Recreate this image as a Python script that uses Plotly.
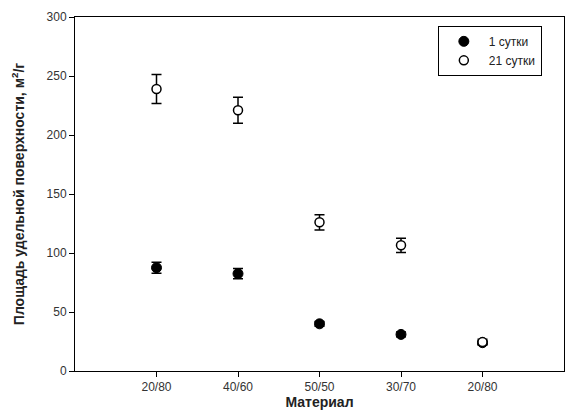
import plotly.graph_objects as go

tick_labels = ["20/80", "40/60", "50/50", "30/70", "20/80"]
x_pos = [1, 2, 3, 4, 5]
day1 = [87.5, 82.5, 40, 31, 24]
day1_err = [4.7, 4.4, 2, 2, 1.5]
day21 = [239, 221, 126, 106.5, 24.5]
day21_err = [12.3, 11, 6.5, 6, 2.5]

fig = go.Figure()
fig.add_trace(go.Scatter(
    x=x_pos, y=day1, mode="markers", name="1 сутки",
    marker=dict(symbol="circle", size=10, color="black", line=dict(color="black", width=1)),
    error_y=dict(type="data", array=day1_err, color="black", thickness=1.5, width=5),
))
fig.add_trace(go.Scatter(
    x=x_pos, y=day21, mode="markers", name="21 сутки",
    marker=dict(symbol="circle", size=9, color="white", line=dict(color="black", width=1.5)),
    error_y=dict(type="data", array=day21_err, color="black", thickness=1.5, width=5),
))

font = "Liberation Sans, Arial, sans-serif"
fig.update_layout(
    width=565, height=412,
    margin=dict(l=75, r=1, t=17, b=41),
    plot_bgcolor="white", paper_bgcolor="white",
    font=dict(family=font, size=12, color="#333"),
    showlegend=True,
    legend=dict(x=0.742, y=0.975, xanchor="left", yanchor="top",
                bordercolor="black", borderwidth=1, bgcolor="white",
                font=dict(size=12, color="#222"), tracegroupgap=0,
                itemwidth=40, yref="paper"),
    xaxis=dict(
        range=[0, 6], tickmode="array", tickvals=x_pos, ticktext=tick_labels,
        showline=True, linecolor="black", linewidth=1, mirror=True,
        ticks="outside", ticklen=5, tickcolor="black", showgrid=False, zeroline=False,
        title=dict(text="<b>Материал</b>", font=dict(size=14, color="#222"), standoff=2),
    ),
    yaxis=dict(
        range=[0, 300], tickvals=[0, 50, 100, 150, 200, 250, 300],
        showline=True, linecolor="black", linewidth=1, mirror=True,
        ticks="outside", ticklen=5, tickcolor="black", showgrid=False, zeroline=False,
        title=dict(text="<b>Площадь удельной поверхности, м<sup>2</sup>/г</b>",
                   font=dict(size=14, color="#222"), standoff=18),
    ),
)
fig.write_html("out.html")
